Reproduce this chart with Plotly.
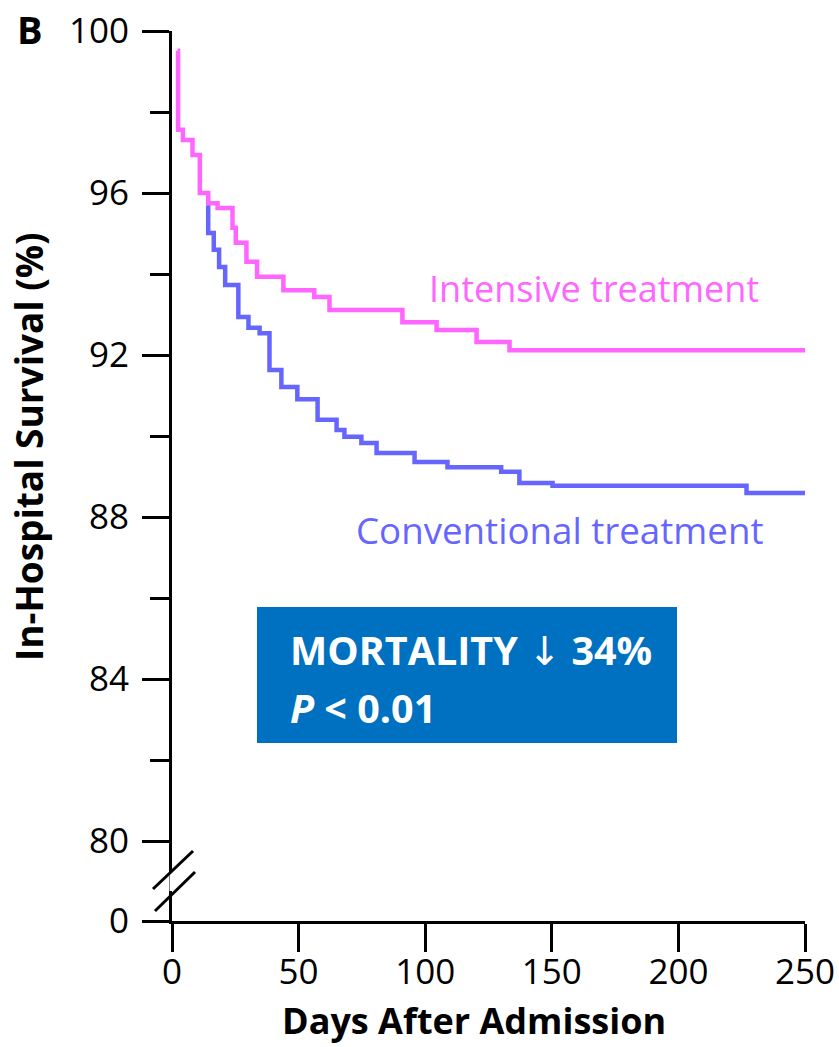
import plotly.graph_objects as go

# ---- data ----
intensive_days = [2.2, 2.4, 4.3, 8.1, 11.0, 14.3, 18.0, 23.9, 25.2, 29.4, 33.6,
                  44.0, 56.2, 62.2, 91.0, 104.5, 120.3, 133.3, 250.0]
intensive_surv = [99.51, 97.56, 97.31, 96.94, 96.00, 95.75, 95.63, 95.14, 94.77, 94.30, 93.93,
                  93.60, 93.43, 93.11, 92.81, 92.62, 92.32, 92.12, 92.10]

conv_days = [14.0, 14.3, 16.5, 18.6, 21.0, 26.2, 30.2, 34.6, 38.5, 43.2, 49.5, 57.5,
             65.0, 68.1, 74.8, 80.8, 95.8, 108.8, 130.0, 137.2, 150.3, 226.9, 250.0]
conv_surv = [95.70, 95.01, 94.60, 94.17, 93.73, 92.94, 92.67, 92.54, 91.63, 91.21, 90.91, 90.40,
             90.15, 89.98, 89.83, 89.58, 89.36, 89.23, 89.12, 88.84, 88.77, 88.59, 88.59]

x_ticks = [0, 50, 100, 150, 200, 250]
y_major = [78.025, 80, 84, 88, 92, 96, 100]
y_major_text = ["0", "80", "84", "88", "92", "96", "100"]
y_minor = [82, 86, 90, 94, 98]

MAGENTA = "#ff66ff"
BLUE = "#6666ff"
BOX = "#0070c0"
FONT = "Open Sans"

fig = go.Figure()
fig.add_trace(go.Scatter(x=conv_days, y=conv_surv, mode="lines",
                         line=dict(color=BLUE, width=4.5, shape="hv"),
                         name="Conventional treatment", showlegend=False, cliponaxis=False))
fig.add_trace(go.Scatter(x=intensive_days, y=intensive_surv, mode="lines",
                         line=dict(color=MAGENTA, width=4.5, shape="hv"),
                         name="Intensive treatment", showlegend=False, cliponaxis=False))

W, H = 839, 1047
L, R, T, B = 172, 34, 31, 126
PW, PH = W - L - R, H - T - B


def px(x):
    return (x - L) / PW


def py(y):
    return (H - B - y) / PH


fig.update_layout(
    width=W, height=H,
    margin=dict(l=L, r=R, t=T, b=B, autoexpand=False),
    paper_bgcolor="white", plot_bgcolor="white",
    font=dict(family=FONT, color="black"),
    xaxis=dict(range=[0, 250], tickmode="array", tickvals=x_ticks, automargin=False,
               showline=True, linewidth=3, linecolor="black",
               ticks="outside", ticklen=28, tickwidth=3, tickcolor="black",
               tickfont=dict(size=35, family=FONT, color="black"),
               ticklabelstandoff=-10,
               showgrid=False, zeroline=False),
    yaxis=dict(range=[78.025, 100], tickmode="array", tickvals=y_major,
               ticktext=y_major_text, automargin=False,
               showline=True, linewidth=3, linecolor="black",
               ticks="outside", ticklen=27, tickwidth=3, tickcolor="black",
               tickfont=dict(size=35, family=FONT, color="black"),
               ticklabelstandoff=6,
               minor=dict(tickmode="array", tickvals=y_minor, ticks="outside",
                          ticklen=19, tickwidth=3, tickcolor="black"),
               showgrid=False, zeroline=False),
)

shapes = []
# axis break: white gap then two slashes
shapes.append(dict(type="line", xref="paper", yref="paper",
                   x0=px(173), x1=px(173), y0=py(872), y1=py(891),
                   line=dict(color="white", width=7), layer="above"))
shapes.append(dict(type="line", xref="paper", yref="paper",
                   x0=px(153), y0=py(889), x1=px(193), y1=py(851),
                   line=dict(color="black", width=3), layer="above"))
shapes.append(dict(type="line", xref="paper", yref="paper",
                   x0=px(155), y0=py(911), x1=px(195), y1=py(872),
                   line=dict(color="black", width=3), layer="above"))
# blue box
shapes.append(dict(type="rect", xref="paper", yref="paper",
                   x0=px(257), x1=px(677), y0=py(743), y1=py(607),
                   fillcolor=BOX, line=dict(width=0), layer="above"))
fig.update_layout(shapes=shapes)

ARROW = '<span style="font-family:DejaVu Sans;font-weight:normal">↓</span>'

ann = []
ann.append(dict(text="<b>B</b>", x=px(15), y=py(1), xanchor="left", yanchor="top",
                font=dict(size=38, family=FONT, color="black")))
ann.append(dict(text="Intensive treatment", x=px(427), y=py(289), xanchor="left",
                yanchor="middle", font=dict(size=36, family=FONT, color=MAGENTA)))
ann.append(dict(text="Conventional treatment", x=px(354), y=py(530), xanchor="left",
                yanchor="middle", font=dict(size=36.7, family=FONT, color=BLUE)))
ann.append(dict(text="<b>MORTALITY </b>" + ARROW + "<b> 34%</b>", x=px(288), y=py(650),
                xanchor="left", yanchor="middle",
                font=dict(size=39.5, family=FONT, color="white")))
ann.append(dict(text="<b><i>P</i> &lt; 0.01</b>", x=px(288), y=py(708), xanchor="left",
                yanchor="middle", font=dict(size=39.5, family=FONT, color="white")))
ann.append(dict(text="<b>Days After Admission</b>", x=px(474), y=py(1047), xanchor="center",
                yanchor="bottom", font=dict(size=36, family=FONT, color="black")))
ann.append(dict(text="<b>In-Hospital Survival (%)</b>", x=px(29), y=py(447), xanchor="center",
                yanchor="middle", textangle=-90, font=dict(size=37, family=FONT, color="black")))
for a in ann:
    a.update(xref="paper", yref="paper", showarrow=False)
fig.update_layout(annotations=ann)

fig.write_html("out.html")
